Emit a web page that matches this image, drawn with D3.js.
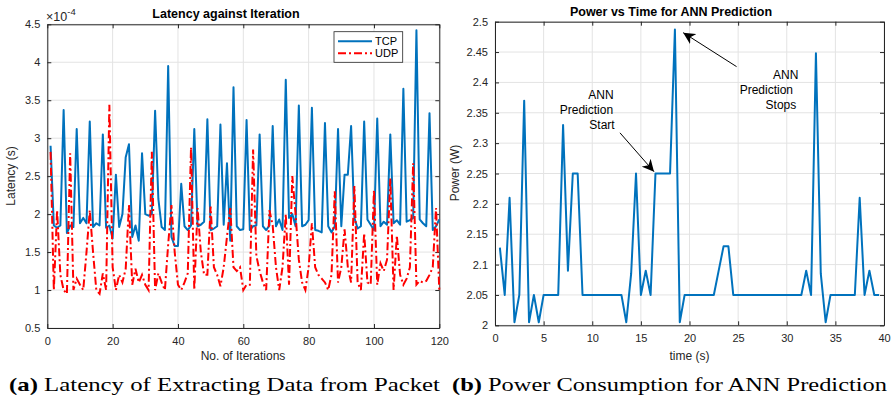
<!DOCTYPE html>
<html>
<head>
<meta charset="utf-8">
<script src="https://cdn.jsdelivr.net/npm/d3@7"></script>
<style>
  html, body { margin: 0; padding: 0; background: #fff; }
  svg { display: block; font-family: "Liberation Sans", Arial, sans-serif; }
</style>
</head>
<body>
<div id="chart"></div>
<script>
// ---- data (a): latency per iteration, in units of 1e-4 s ----
const iterations = d3.range(1, 121)
const tcpLatency = [
  2.90, 1.85, 1.82, 1.85, 3.37, 1.75, 1.85, 1.83, 3.12, 1.88,
  1.95, 1.88, 3.22, 1.83, 1.88, 1.85, 3.05, 1.82, 1.85, 1.68,
  2.52, 1.83, 2.00, 2.75, 2.92, 1.70, 1.85, 1.65, 2.80, 2.00,
  1.98, 2.00, 3.36, 2.20, 1.83, 1.79, 3.95, 1.70, 1.58, 1.58,
  2.40, 1.84, 1.79, 1.85, 3.12, 1.84, 1.86, 1.90, 3.25, 1.79,
  1.81, 1.84, 3.18, 1.86, 2.67, 1.65, 3.67, 1.84, 1.79, 1.80,
  3.24, 1.79, 1.84, 1.85, 3.05, 1.84, 1.79, 1.85, 3.16, 1.84,
  1.93, 1.79, 3.77, 1.95, 2.00, 1.84, 3.43, 1.84, 1.86, 1.92,
  3.40, 1.79, 1.78, 1.76, 3.20, 1.84, 1.76, 1.84, 3.12, 1.84,
  2.52, 2.52, 3.16, 1.95, 1.81, 1.84, 3.22, 1.93, 1.86, 1.79,
  3.26, 1.84, 1.90, 1.86, 3.05, 1.88, 1.92, 1.86, 3.65, 1.90,
  1.92, 1.95, 4.42, 1.93, 1.88, 1.84, 3.33, 1.79, 1.84, 1.93
]
const udpLatency = [
  2.82, 1.00, 2.05, 1.20, 1.00, 0.95, 2.80, 1.00, 1.15, 1.07,
  1.00, 1.50, 2.05, 1.50, 1.00, 0.95, 1.22, 1.00, 3.44, 1.30,
  1.00, 1.20, 1.10, 1.28, 2.12, 1.07, 1.28, 1.10, 1.20, 1.07,
  1.00, 2.82, 1.00, 1.22, 1.10, 1.00, 1.60, 2.12, 1.50, 1.07,
  1.00, 1.10, 1.22, 2.88, 1.00, 2.08, 1.50, 1.20, 1.20, 2.10,
  1.30, 1.20, 1.05, 1.30, 1.70, 2.08, 1.30, 1.25, 1.30, 1.00,
  1.07, 1.07, 2.85, 1.45, 1.25, 1.10, 1.00, 2.05, 1.85, 1.30,
  1.00, 1.30, 2.00, 1.07, 2.50, 2.00, 1.40, 1.10, 1.00, 1.30,
  1.88, 1.30, 1.20, 1.15, 1.10, 1.00, 1.20, 2.30, 1.10, 1.30,
  1.80, 1.30, 1.10, 2.37, 1.10, 1.00, 1.75, 1.10, 1.07, 2.32,
  1.07, 1.35, 1.25, 1.40, 2.47, 1.00, 1.72, 1.20, 1.07, 1.15,
  1.30, 2.67, 1.07, 1.12, 1.10, 1.12, 1.20, 1.30, 2.08, 1.00
]
const latencyXTicks = [0, 20, 40, 60, 80, 100, 120]
const latencyYTicks = [0.5, 1, 1.5, 2, 2.5, 3, 3.5, 4, 4.5]

// ---- data (b): power vs time ----
const powerTime = [
  0.5, 1, 1.5, 2, 2.5, 3, 3.5, 4, 4.5, 5, 5.5, 6, 6.5, 7, 7.5, 8, 8.5, 9, 9.5, 10,
  10.5, 11, 11.5, 12, 12.5, 13, 13.5, 14, 14.5, 15, 15.5, 16, 16.5, 17, 17.5, 18, 18.5, 19, 19.5, 20,
  20.5, 21, 21.5, 22, 22.5, 23, 23.5, 24, 24.5, 25, 25.5, 26, 26.5, 27, 27.5, 28, 28.5, 29, 29.5, 30,
  30.5, 31, 31.5, 32, 32.5, 33, 33.5, 34, 34.5, 35, 35.5, 36, 36.5, 37, 37.5, 38, 38.5, 39, 39.5
]
const powerW = [
  2.128, 2.05, 2.21, 2.005, 2.05, 2.37, 2.005, 2.05, 2.005, 2.05, 2.05, 2.05, 2.05, 2.33, 2.09, 2.25, 2.25, 2.05, 2.05, 2.05,
  2.05, 2.05, 2.05, 2.05, 2.05, 2.05, 2.005, 2.085, 2.25, 2.05, 2.09, 2.05, 2.25, 2.25, 2.25, 2.25, 2.487, 2.005, 2.05, 2.05,
  2.05, 2.05, 2.05, 2.05, 2.05, 2.09, 2.13, 2.13, 2.05, 2.05, 2.05, 2.05, 2.05, 2.05, 2.05, 2.05, 2.05, 2.05, 2.05, 2.05,
  2.05, 2.05, 2.05, 2.09, 2.05, 2.448, 2.085, 2.005, 2.05, 2.05, 2.05, 2.05, 2.05, 2.05, 2.21, 2.05, 2.09, 2.05, 2.05
]
const powerXTicks = [0, 5, 10, 15, 20, 25, 30, 35, 40]
const powerYTicks = [2, 2.05, 2.1, 2.15, 2.2, 2.25, 2.3, 2.35, 2.4, 2.45, 2.5]

const startLabel = ["ANN", "Prediction", "Start"]
const stopLabel = ["ANN", "Prediction", "Stops"]

const width = 893, height = 397
const axisColor = "#262626", gridColor = "#e3e3e3", blue = "#0072BD"

const svg = d3.select("#chart").append("svg").attr("width", width).attr("height", height)
svg.append("defs").append("marker")
  .attr("id", "head").attr("viewBox", "0 0 10 10").attr("refX", 10).attr("refY", 5)
  .attr("markerWidth", 12).attr("markerHeight", 12).attr("markerUnits", "userSpaceOnUse")
  .attr("orient", "auto")
  .append("path").attr("d", "M0,0 L10,5 L0,10 L3,5 Z").attr("fill", "#000")

function frame(x, y, xt, yt, fmtY) {
  const [x0, x1] = x.range(), [y0, y1] = y.range()
  const g = svg.append("g")
  // grid
  g.selectAll(".gx").data(xt).join("line")
    .attr("x1", d => x(d)).attr("x2", d => x(d)).attr("y1", y0).attr("y2", y1)
    .attr("stroke", gridColor).attr("stroke-width", 1)
  g.selectAll(".gy").data(yt).join("line")
    .attr("x1", x0).attr("x2", x1).attr("y1", d => y(d)).attr("y2", d => y(d))
    .attr("stroke", gridColor).attr("stroke-width", 1)
  // axes with inward ticks
  const ax = [
    [d3.axisBottom(x).tickValues(xt).tickSizeInner(-4).tickSizeOuter(0).tickPadding(9), `translate(0,${y0})`],
    [d3.axisTop(x).tickValues(xt).tickSizeInner(-4).tickSizeOuter(0).tickFormat(""), `translate(0,${y1})`],
    [d3.axisLeft(y).tickValues(yt).tickSizeInner(-4).tickSizeOuter(0).tickPadding(7).tickFormat(fmtY), `translate(${x0},0)`],
    [d3.axisRight(y).tickValues(yt).tickSizeInner(-4).tickSizeOuter(0).tickFormat(""), `translate(${x1},0)`]
  ]
  for (const [a, t] of ax) {
    const s = g.append("g").attr("transform", t).call(a)
    s.select(".domain").attr("stroke", axisColor)
    s.selectAll(".tick line").attr("stroke", axisColor)
    s.selectAll(".tick text").attr("fill", axisColor).style("font-size", "11px")
      .style("font-family", '"Liberation Sans", Arial, sans-serif')
  }
  return g
}

// ---------- (a) latency ----------
const xa = d3.scaleLinear().domain([0, 120]).range([47.3, 439.3])
const ya = d3.scaleLinear().domain([0.5, 4.5]).range([328, 24.3])
frame(xa, ya, latencyXTicks, latencyYTicks, d => String(d))

const lineA = (vals) => d3.line().x((d, i) => xa(iterations[i])).y(d => ya(d))(vals)
svg.append("path").attr("d", lineA(tcpLatency)).attr("fill", "none")
  .attr("stroke", blue).attr("stroke-width", 2).attr("stroke-linejoin", "round")
svg.append("path").attr("d", lineA(udpLatency)).attr("fill", "none")
  .attr("stroke", "#ff0000").attr("stroke-width", 2).attr("stroke-dasharray", "8,3,2,3")

svg.append("text").attr("x", 226).attr("y", 18).attr("text-anchor", "middle")
  .attr("font-weight", "bold").attr("font-size", 12.5).attr("fill", "#000").text("Latency against Iteration")
const ex = svg.append("text").attr("x", 46).attr("y", 21).attr("font-size", 12.5).attr("fill", axisColor)
ex.append("tspan").text("×10")
ex.append("tspan").attr("dy", -6).attr("font-size", 9.5).text("-4")
svg.append("text").attr("x", 243).attr("y", 360).attr("text-anchor", "middle")
  .attr("font-size", 12).attr("fill", axisColor).text("No. of Iterations")
svg.append("text").attr("transform", "translate(15,176) rotate(-90)").attr("text-anchor", "middle")
  .attr("font-size", 12).attr("fill", axisColor).text("Latency (s)")

// legend
const lg = svg.append("g").attr("transform", "translate(334,31.7)")
lg.append("rect").attr("width", 68.7).attr("height", 30.6).attr("fill", "#fff").attr("stroke", axisColor).attr("stroke-width", 0.8)
const legendItems = [["TCP", blue, null], ["UDP", "#ff0000", "8,3,2,3"]]
legendItems.forEach(([name, c, dash], i) => {
  const yy = 9.5 + i * 12
  lg.append("line").attr("x1", 4).attr("x2", 38).attr("y1", yy).attr("y2", yy)
    .attr("stroke", c).attr("stroke-width", 2).attr("stroke-dasharray", dash)
  lg.append("text").attr("x", 41).attr("y", yy).attr("dy", "0.35em").attr("font-size", 11).attr("fill", "#000").text(name)
})

// ---------- (b) power ----------
const xb = d3.scaleLinear().domain([0, 40]).range([495, 884])
const yb = d3.scaleLinear().domain([2, 2.5]).range([325.3, 21.7])
frame(xb, yb, powerXTicks, powerYTicks, d => String(+d.toFixed(2)))

svg.append("path").attr("d", d3.line().x((d, i) => xb(powerTime[i])).y(d => yb(d))(powerW))
  .attr("fill", "none").attr("stroke", blue).attr("stroke-width", 2).attr("stroke-linejoin", "round")

svg.append("text").attr("x", 671).attr("y", 16).attr("text-anchor", "middle")
  .attr("font-weight", "bold").attr("font-size", 12.5).attr("fill", "#000").text("Power vs Time for ANN Prediction")
svg.append("text").attr("x", 689.5).attr("y", 360).attr("text-anchor", "middle")
  .attr("font-size", 12).attr("fill", axisColor).text("time (s)")
svg.append("text").attr("transform", "translate(459,173) rotate(-90)").attr("text-anchor", "middle")
  .attr("font-size", 12).attr("fill", axisColor).text("Power (W)")

// annotations (data coordinates)
const ann = svg.append("g").attr("font-size", 12).attr("fill", "#000").attr("text-anchor", "middle")
const startX = [10.9, 9.4, 11.0], stopX = [29.9, 27.9, 29.4]
startLabel.forEach((t, i) => ann.append("text").attr("x", xb(startX[i])).attr("y", yb(2.38 - i * 0.0247)).attr("dy", "0.35em").text(t))
stopLabel.forEach((t, i) => ann.append("text").attr("x", xb(stopX[i])).attr("y", yb(2.412 - i * 0.0247)).attr("dy", "0.35em").text(t))
svg.append("line").attr("x1", xb(12.85)).attr("y1", yb(2.317)).attr("x2", xb(16.35)).attr("y2", yb(2.253))
  .attr("stroke", "#000").attr("stroke-width", 1).attr("marker-end", "url(#head)")
svg.append("line").attr("x1", xb(24.84)).attr("y1", yb(2.426)).attr("x2", xb(19.35)).attr("y2", yb(2.482))
  .attr("stroke", "#000").attr("stroke-width", 1).attr("marker-end", "url(#head)")

// ---------- captions ----------
function caption(x0, x1, tag, rest) {
  const t = svg.append("text").attr("x", x0).attr("y", 391).attr("fill", "#000")
    .style("font-family", '"Liberation Serif", "Times New Roman", serif').attr("font-size", 19.5)
    .attr("textLength", x1 - x0).attr("lengthAdjust", "spacingAndGlyphs")
  t.append("tspan").attr("font-weight", "bold").text(tag)
  t.append("tspan").text(" " + rest)
}
caption(9, 440, "(a)", "Latency of Extracting Data from Packet")
caption(452, 887, "(b)", "Power Consumption for ANN Prediction")
</script>
</body>
</html>
